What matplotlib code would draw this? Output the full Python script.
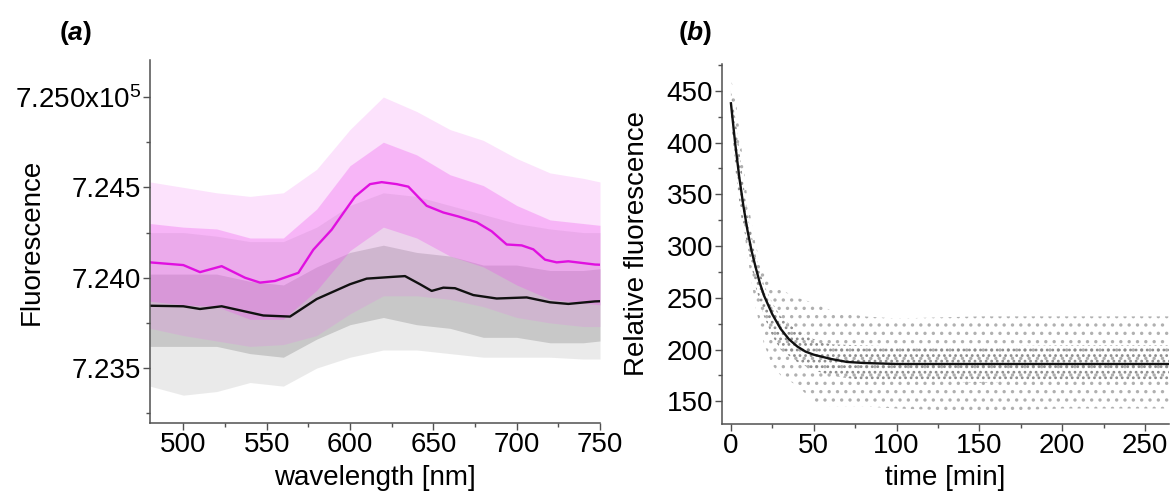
import matplotlib
matplotlib.use("Agg")
import matplotlib.pyplot as plt
from matplotlib.ticker import MultipleLocator, FuncFormatter

plt.rcParams['font.family'] = ['Liberation Sans', 'DejaVu Sans']
plt.rcParams['mathtext.fontset'] = 'custom'
plt.rcParams['mathtext.rm'] = 'Liberation Sans'
plt.rcParams['mathtext.it'] = 'Liberation Sans:italic:bold'
plt.rcParams['hatch.linewidth'] = 1.2

# ---- panel (a): fluorescence spectra (values in units of 1e5) ----
wl_line = [480, 500, 510, 523, 537, 546, 555, 569, 578, 589, 596, 603, 612, 619,
           628, 635, 646, 656, 665, 676, 685, 694, 703, 710, 717, 724, 731, 747, 750]
magenta_smooth = [7.24085, 7.24070, 7.24031, 7.24064, 7.24000, 7.23973, 7.23982,
                  7.24027, 7.24155, 7.24266, 7.24358, 7.24449, 7.24518, 7.24529,
                  7.24518, 7.24504, 7.24398, 7.24361, 7.24339, 7.24307, 7.24257,
                  7.24184, 7.24179, 7.24157, 7.24100, 7.24085, 7.24091, 7.24073, 7.24072]

wl_black = [480, 500, 510, 523, 548, 564, 580, 600, 610, 626, 633, 642, 649, 656,
            663, 674, 688, 706, 720, 731, 747, 750]
black_smooth = [7.23845, 7.23842, 7.23827, 7.23842, 7.23791, 7.23785, 7.23882,
                7.23964, 7.23995, 7.24005, 7.24009, 7.23964, 7.23927, 7.23945,
                7.23942, 7.23904, 7.23885, 7.23891, 7.23864, 7.23855, 7.23869, 7.23870]

# extent of the noisy raw traces (outer = spikes, core = dense part)
wl_env = [480, 500, 520, 540, 560, 580, 600, 620, 640, 660, 680, 700, 720, 740, 750]
magenta_hi = [7.2453, 7.2450, 7.2447, 7.2445, 7.2447, 7.2460, 7.2482, 7.2500,
              7.2492, 7.2482, 7.2476, 7.2466, 7.2458, 7.2455, 7.2453]
magenta_lo = [7.2372, 7.2368, 7.2365, 7.2362, 7.2363, 7.2368, 7.2380, 7.2390,
              7.2390, 7.2388, 7.2384, 7.2378, 7.2375, 7.2373, 7.2373]
magenta_core_hi = [7.2430, 7.2428, 7.2427, 7.2422, 7.2422, 7.2438, 7.2462, 7.2475,
                   7.2468, 7.2457, 7.2451, 7.2440, 7.2432, 7.2430, 7.2429]
magenta_core_lo = [7.2387, 7.2385, 7.2384, 7.2377, 7.2377, 7.2393, 7.2415, 7.2428,
                   7.2422, 7.2412, 7.2406, 7.2396, 7.2388, 7.2386, 7.2385]
gray_hi = [7.2425, 7.2425, 7.2423, 7.2420, 7.2420, 7.2428, 7.2440, 7.2447,
           7.2445, 7.2440, 7.2435, 7.2430, 7.2427, 7.2425, 7.2425]
gray_lo = [7.2340, 7.2335, 7.2337, 7.2342, 7.2340, 7.2350, 7.2356, 7.2360,
           7.2360, 7.2358, 7.2356, 7.2356, 7.2356, 7.2355, 7.2355]
gray_core_hi = [7.2402, 7.2402, 7.2402, 7.2398, 7.2396, 7.2406, 7.2414, 7.2418,
                7.2414, 7.2412, 7.2407, 7.2407, 7.2404, 7.2404, 7.2405]
gray_core_lo = [7.2362, 7.2362, 7.2362, 7.2358, 7.2356, 7.2366, 7.2374, 7.2378,
                7.2374, 7.2372, 7.2367, 7.2367, 7.2364, 7.2364, 7.2365]

# ---- panel (b): relative fluorescence vs time ----
t_fit = [0, 2.5, 5, 7.5, 10, 12.5, 15, 17.5, 20, 25, 30, 35, 40, 45, 50, 60, 70,
         80, 100, 150, 200, 265]
fit_vals = [438, 400, 367, 339, 315, 295, 279, 264, 252, 234, 220, 210, 203, 198,
            195, 191, 188, 187, 186, 186, 186, 186]

t_env = [0, 3, 6, 10, 15, 20, 25, 30, 40, 50, 60, 80, 100, 150, 200, 265]
pts_outer_hi = [462, 440, 400, 345, 300, 275, 262, 258, 250, 245, 238, 232, 230, 232, 232, 232]
pts_outer_lo = [420, 380, 340, 290, 240, 205, 185, 175, 165, 150, 145, 145, 143, 140, 143, 143]
pts_inner_hi = [450, 420, 380, 330, 290, 262, 245, 232, 218, 210, 205, 204, 203, 203, 204, 204]
pts_inner_lo = [425, 370, 330, 300, 260, 232, 213, 200, 188, 180, 175, 170, 170, 168, 170, 170]

spine_col = '#505050'
FS = 20


def style_axes(ax):
    for s in ['top', 'right']:
        ax.spines[s].set_visible(False)
    for s in ['left', 'bottom']:
        ax.spines[s].set_color(spine_col)
        ax.spines[s].set_linewidth(1.1)
    ax.tick_params(which='major', length=5, width=1.0, color=spine_col,
                   labelsize=FS, pad=1.5)
    ax.tick_params(which='minor', length=3, width=1.0, color=spine_col)


fig = plt.figure(figsize=(11.74, 4.97), dpi=100)
ax1 = fig.add_axes([150 / 1174, 74 / 497, 450 / 1174, 363 / 497])
ax2 = fig.add_axes([722 / 1174, 73 / 497, 447 / 1174, 360 / 497])

# panel a
ax1.fill_between(wl_env, gray_lo, gray_hi, color='#9a9a9a', alpha=0.2, lw=0)
ax1.fill_between(wl_env, gray_core_lo, gray_core_hi, color='#7a7a7a', alpha=0.3, lw=0)
ax1.fill_between(wl_env, magenta_lo, magenta_hi, color='#f070f0', alpha=0.2, lw=0)
ax1.fill_between(wl_env, magenta_core_lo, magenta_core_hi, color='#ee50ee', alpha=0.3, lw=0)
ax1.plot(wl_line, magenta_smooth, color='#e010e0', lw=1.7)
ax1.plot(wl_black, black_smooth, color='#111111', lw=1.7)
ax1.set_xlim(480, 750)
ax1.set_ylim(7.23196, 7.25205)
ax1.xaxis.set_major_locator(MultipleLocator(50))
ax1.xaxis.set_minor_locator(MultipleLocator(25))
ax1.yaxis.set_major_locator(MultipleLocator(0.005))
ax1.yaxis.set_minor_locator(MultipleLocator(0.0025))


def fmt_a(v, pos):
    if abs(v - 7.250) < 1e-6:
        return r'$\mathregular{7.250x10^5}$'
    return '%.3f' % v


ax1.yaxis.set_major_formatter(FuncFormatter(fmt_a))
style_axes(ax1)
ax1.set_xlabel('wavelength [nm]', fontsize=FS)
ax1.set_ylabel('Fluorescence', fontsize=FS)
ax1.xaxis.set_label_coords(0.5, -0.115)
ax1.yaxis.set_label_coords(-0.233, 0.5)

# panel b
ax2.fill_between(t_env, pts_outer_lo, pts_outer_hi, facecolor='none', hatch='..',
                 edgecolor='#b0b0b0', lw=0)
ax2.fill_between(t_env, pts_inner_lo, pts_inner_hi, facecolor='none', hatch='...',
                 edgecolor='#8c8c8c', lw=0)
ax2.plot(t_fit, fit_vals, color='#111111', lw=1.7)
ax2.set_xlim(-5.4, 264.5)
ax2.set_ylim(128, 476)
ax2.xaxis.set_major_locator(MultipleLocator(50))
ax2.xaxis.set_minor_locator(MultipleLocator(25))
ax2.yaxis.set_major_locator(MultipleLocator(50))
ax2.yaxis.set_minor_locator(MultipleLocator(25))
style_axes(ax2)
ax2.set_xlabel('time [min]', fontsize=FS)
ax2.set_ylabel('Relative fluorescence', fontsize=FS)
ax2.xaxis.set_label_coords(0.5, -0.115)
ax2.yaxis.set_label_coords(-0.161, 0.5)

fig.text(75 / 1174, 1 - 33 / 497, r'($\it{a}$)', fontsize=19, fontweight='bold',
         ha='center', va='center')
fig.text(695 / 1174, 1 - 33 / 497, r'($\it{b}$)', fontsize=19, fontweight='bold',
         ha='center', va='center')

fig.savefig('out.png', dpi=100)
